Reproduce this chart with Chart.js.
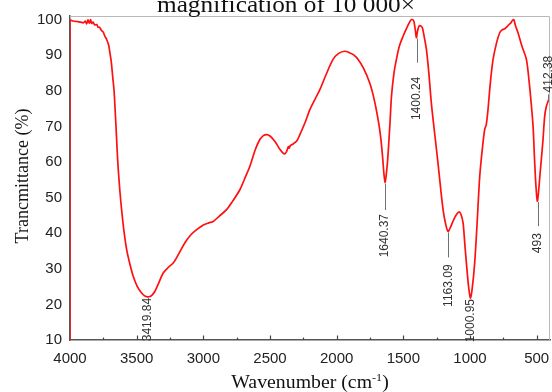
<!DOCTYPE html>
<html><head><meta charset="utf-8">
<script src="https://cdn.jsdelivr.net/npm/chart.js@4.4.1/dist/chart.umd.min.js"></script>
<style>html,body{margin:0;padding:0;background:#fff;}canvas{display:block}</style>
</head><body>
<canvas id="c" width="552" height="392"></canvas>
<script>
const chartTitle = 'magnification of 10 000×';
const xAxisTitle = 'Wavenumber (cm';
const xAxisTitleSup = '-1';
const yAxisTitle = 'Trancmittance (%)';

const xTicks = [4000, 3500, 3000, 2500, 2000, 1500, 1000, 500];
const yTicks = [10, 20, 30, 40, 50, 60, 70, 80, 90, 100];

const wavenumber = [4000, 4000, 3980, 3960, 3940, 3920, 3900, 3885, 3875, 3865, 3855, 3845, 3838, 3828, 3815, 3800, 3790, 3778, 3765, 3750, 3738, 3725, 3710, 3700, 3690, 3680, 3670, 3662, 3655, 3646, 3638, 3625, 3613, 3595, 3575, 3550, 3526, 3495, 3463, 3440, 3421, 3400, 3385, 3363, 3335, 3301, 3260, 3226, 3180, 3138, 3095, 3050, 3000, 2960, 2926, 2880, 2826, 2780, 2726, 2690, 2651, 2610, 2576, 2550, 2526, 2500, 2464, 2430, 2400, 2389, 2375, 2362, 2355, 2348, 2330, 2301, 2276, 2240, 2201, 2160, 2126, 2080, 2027, 1985, 1939, 1900, 1870, 1839, 1800, 1752, 1720, 1689, 1670, 1656, 1645, 1637, 1628, 1620, 1614, 1600, 1589, 1570, 1552, 1530, 1502, 1470, 1450, 1439, 1425, 1419, 1410, 1402, 1395, 1385, 1377, 1365, 1357, 1345, 1327, 1310, 1290, 1265, 1240, 1220, 1202, 1185, 1165, 1145, 1122, 1100, 1082, 1068, 1052, 1040, 1027, 1012, 997, 985, 965, 945, 927, 908, 890, 878, 865, 848, 827, 800, 777, 760, 740, 720, 708, 695, 685, 672, 660, 640, 610, 577, 555, 540, 527, 515, 505, 495, 485, 475, 465, 452, 440, 428, 415, 408];
const transmittance = [10, 99.8, 99.6, 99.5, 99.4, 99.3, 99.1, 99.6, 98.8, 99.9, 99.0, 100.0, 98.9, 99.3, 98.5, 98.6, 97.9, 97.8, 97.0, 96.4, 95.3, 94.4, 92.8, 90.5, 88.0, 84.0, 80.3, 75.0, 70.0, 63.0, 57.9, 51.5, 46.6, 40.5, 35.4, 31.2, 27.9, 25.0, 23.2, 22.4, 22.1, 22.2, 22.6, 23.7, 26.0, 28.8, 30.5, 31.6, 34.5, 37.3, 39.5, 41.0, 42.3, 42.9, 43.3, 44.8, 46.6, 49.0, 52.2, 55.3, 58.8, 63.5, 66.3, 67.4, 67.7, 67.3, 65.8, 63.8, 62.4, 62.3, 63.0, 64.3, 63.9, 64.6, 65.0, 65.8, 67.7, 70.8, 74.7, 77.8, 80.3, 84.5, 88.8, 90.5, 91.1, 90.6, 90.0, 88.8, 86.4, 82.2, 77.8, 71.9, 67.0, 61.6, 56.5, 54.1, 56.5, 59.5, 62.5, 71.0, 78.4, 85.0, 88.8, 92.5, 95.3, 98.0, 99.5, 100.0, 99.8, 99.2, 97.0, 94.9, 96.5, 98.0, 98.3, 98.1, 97.7, 95.5, 91.6, 85.5, 76.6, 68.0, 59.7, 52.5, 46.6, 43.0, 40.5, 41.8, 43.8, 45.3, 46.0, 45.3, 42.9, 37.5, 31.6, 25.5, 21.8, 24.0, 31.6, 44.0, 56.0, 63.5, 69.1, 70.5, 74.7, 82.0, 88.8, 93.6, 96.3, 97.1, 97.4, 98.1, 98.6, 99.0, 99.6, 100.0, 98.4, 96.3, 92.5, 88.8, 82.0, 76.0, 70.0, 60.0, 53.0, 49.0, 52.0, 56.5, 60.7, 66.5, 72.8, 75.5, 77.0, 77.5];

const peakLabels = ['3419.84', '1640.37', '1400.24', '1163.09', '1000.95', '493', '412.38'];
const peakWavenumber = [3419.84, 1640.37, 1400.24, 1163.09, 1000.95, 493, 412.38];
const peakTransmittance = [22.1, 54.1, 94.9, 40.5, 21.8, 49.0, 77.0];

// styling for the peak labels (direction, leader line length, text gap)
const peakStyle = [
  {dir: 'down', line: 0, gap: 1},
  {dir: 'down', line: 27, gap: 31},
  {dir: 'down', line: 25, gap: 39},
  {dir: 'down', line: 26, gap: 33},
  {dir: 'down', line: 0, gap: 1},
  {dir: 'down', line: 25, gap: 32},
  {dir: 'up', line: 7, gap: 9}
];

const points = wavenumber.map((w, i) => ({x: w, y: transmittance[i]}));

const deco = {
  id: 'deco',
  afterDraw(chart) {
    const {ctx, chartArea: a, scales: {x, y}} = chart;
    ctx.save();
    // top & right frame
    ctx.strokeStyle = '#b8b8b8';
    ctx.lineWidth = 1;
    ctx.beginPath();
    ctx.moveTo(a.left, a.top + 0.5);
    ctx.lineTo(a.right - 0.5, a.top + 0.5);
    ctx.lineTo(a.right - 0.5, a.bottom);
    ctx.stroke();
    // inward ticks on x axis
    ctx.strokeStyle = '#444';
    ctx.lineWidth = 1.2;
    for (let v = 500; v < 4000; v += 250) {
      const px = Math.round(x.getPixelForValue(v)) + 0.5;
      const len = v % 500 === 0 ? 4.5 : 2.5;
      ctx.beginPath();
      ctx.moveTo(px, a.bottom);
      ctx.lineTo(px, a.bottom - len);
      ctx.stroke();
    }
    // peak annotations
    ctx.font = '12px "Liberation Sans", Arial, sans-serif';
    ctx.fillStyle = '#333';
    ctx.textBaseline = 'middle';
    peakLabels.forEach((lab, i) => {
      const px = x.getPixelForValue(peakWavenumber[i]);
      const py = y.getPixelForValue(peakTransmittance[i]);
      const st = peakStyle[i];
      const s = st.dir === 'down' ? 1 : -1;
      if (st.line > 0) {
        ctx.strokeStyle = '#707070';
        ctx.lineWidth = 1;
        ctx.beginPath();
        ctx.moveTo(Math.round(px) + 0.5, py + s * 1);
        ctx.lineTo(Math.round(px) + 0.5, py + s * st.line);
        ctx.stroke();
      }
      ctx.save();
      ctx.translate(px + 0.5, py + s * st.gap);
      ctx.rotate(-Math.PI / 2);
      ctx.textAlign = st.dir === 'down' ? 'right' : 'left';
      ctx.fillText(lab, 0, 0);
      ctx.restore();
    });
    // chart title (partly cut off at top)
    ctx.fillStyle = '#111';
    ctx.textBaseline = 'alphabetic';
    ctx.textAlign = 'center';
    ctx.save();
    ctx.translate(286, 12);
    ctx.scale(1.1, 1);
    ctx.font = '23px "Liberation Serif", "Times New Roman", serif';
    ctx.fillText(chartTitle, 0, 0);
    ctx.restore();
    // y axis title
    ctx.save();
    ctx.translate(23, 176);
    ctx.rotate(-Math.PI / 2);
    ctx.font = '18px "Liberation Serif", "Times New Roman", serif';
    ctx.textBaseline = 'middle';
    ctx.fillText(yAxisTitle, 0, 0);
    ctx.restore();
    // x axis title with superscript
    ctx.save();
    ctx.translate(310, 388);
    ctx.scale(1.1, 1);
    const big = '18px "Liberation Serif", "Times New Roman", serif';
    const small = '11px "Liberation Serif", "Times New Roman", serif';
    ctx.font = big; const w1 = ctx.measureText(xAxisTitle).width; const w3 = ctx.measureText(')').width;
    ctx.font = small; const w2 = ctx.measureText(xAxisTitleSup).width;
    let cx = -(w1 + w2 + w3) / 2;
    ctx.textAlign = 'left';
    ctx.font = big; ctx.fillText(xAxisTitle, cx, 0); cx += w1;
    ctx.font = small; ctx.fillText(xAxisTitleSup, cx, -7); cx += w2;
    ctx.font = big; ctx.fillText(')', cx, 0);
    ctx.restore();
    ctx.restore();
  }
};

const tickFont = {family: '"Liberation Sans", Arial, sans-serif', size: 15};

new Chart(document.getElementById('c'), {
  type: 'line',
  data: {datasets: [{data: points, borderColor: '#ff1010', borderWidth: 1.7, pointRadius: 0, tension: 0.3, fill: false}]},
  options: {
    responsive: false, animation: false, devicePixelRatio: 1,
    layout: {padding: {top: 16, right: 2, left: 0, bottom: 0}},
    plugins: {legend: {display: false}, tooltip: {enabled: false}, title: {display: false}},
    scales: {
      x: {
        type: 'linear', reverse: true, min: 400, max: 4000,
        grid: {display: false, drawTicks: false},
        border: {display: true, color: '#555', width: 1.5},
        ticks: {font: tickFont, color: '#222', padding: 10, maxRotation: 0, autoSkip: false, callback: v => String(v)},
        afterBuildTicks: s => { s.ticks = xTicks.map(v => ({value: v})); },
        afterFit: s => { s.height = 52; s.paddingLeft = 0; s.paddingRight = 0; }
      },
      y: {
        min: 10, max: 101,
        grid: {display: false, drawTicks: false},
        border: {display: true, color: '#555', width: 1.5},
        ticks: {font: tickFont, color: '#222', padding: 8, autoSkip: false, callback: v => String(v)},
        afterBuildTicks: s => { s.ticks = yTicks.map(v => ({value: v})); },
        afterFit: s => { s.width = 70; s.paddingTop = 0; s.paddingBottom = 0; }
      }
    }
  },
  plugins: [deco]
});
</script>
</body></html>
